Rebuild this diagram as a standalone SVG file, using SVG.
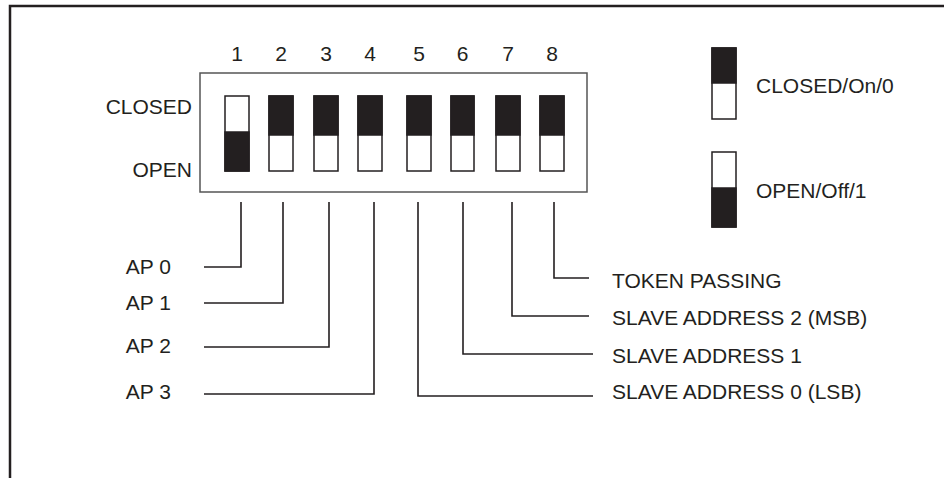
<svg xmlns="http://www.w3.org/2000/svg" width="944" height="478" viewBox="0 0 944 478">
<style>
text{font-family:"Liberation Sans",Arial,sans-serif;font-size:21px;fill:#231f20}
.sw{fill:#fff;stroke:#231f20;stroke-width:1.5}
.blk{fill:#231f20;stroke:#231f20;stroke-width:1.5}
.ld{fill:none;stroke:#231f20;stroke-width:1.6}
</style>
<rect width="944" height="478" fill="#fff"/>
<path d="M10,478 V6 H944" fill="none" stroke="#231f20" stroke-width="2.5"/>
<g id="dip-switch">
<rect x="200" y="73" width="387" height="119" fill="#fff" stroke="#555" stroke-width="1.5"/>
<g text-anchor="middle">
<text x="237" y="61">1</text><text x="281" y="61">2</text><text x="326" y="61">3</text><text x="370" y="61">4</text>
<text x="419" y="61">5</text><text x="462.5" y="61">6</text><text x="508" y="61">7</text><text x="552" y="61">8</text>
</g>
<text x="192" y="114" text-anchor="end">CLOSED</text>
<text x="192" y="177" text-anchor="end">OPEN</text>
<g id="sw1"><rect class="sw" x="225" y="96" width="24" height="75"/><rect class="blk" x="225" y="132" width="24" height="39"/></g>
<g id="sw2"><rect class="sw" x="269" y="96" width="24" height="75"/><rect class="blk" x="269" y="96" width="24" height="39"/></g>
<g id="sw3"><rect class="sw" x="314" y="96" width="24" height="75"/><rect class="blk" x="314" y="96" width="24" height="39"/></g>
<g id="sw4"><rect class="sw" x="358" y="96" width="24" height="75"/><rect class="blk" x="358" y="96" width="24" height="39"/></g>
<g id="sw5"><rect class="sw" x="407" y="96" width="24" height="75"/><rect class="blk" x="407" y="96" width="24" height="39"/></g>
<g id="sw6"><rect class="sw" x="451" y="96" width="23" height="75"/><rect class="blk" x="451" y="96" width="23" height="39"/></g>
<g id="sw7"><rect class="sw" x="496" y="96" width="24" height="75"/><rect class="blk" x="496" y="96" width="24" height="39"/></g>
<g id="sw8"><rect class="sw" x="540" y="96" width="24" height="75"/><rect class="blk" x="540" y="96" width="24" height="39"/></g>
</g>
<g id="legend-closed">
<rect class="sw" x="712" y="48" width="24" height="71"/><rect class="blk" x="712" y="48" width="24" height="35"/>
<text x="756" y="93">CLOSED/On/0</text>
</g>
<g id="legend-open">
<rect class="sw" x="712" y="152" width="24" height="75"/><rect class="blk" x="712" y="188" width="24" height="39"/>
<text x="756" y="198">OPEN/Off/1</text>
</g>
<g id="connectors">
<path class="ld" d="M241,202 V267 H204"/>
<path class="ld" d="M283,202 V303 H204"/>
<path class="ld" d="M329,202 V347 H204"/>
<path class="ld" d="M374,202 V394 H204"/>
<path class="ld" d="M418,202 V396 H593"/>
<path class="ld" d="M463,202 V354 H593"/>
<path class="ld" d="M512,202 V316 H589"/>
<path class="ld" d="M554,202 V278 H589"/>
</g>
<g id="labels-left" text-anchor="end">
<text x="171" y="274">AP 0</text>
<text x="171" y="310">AP 1</text>
<text x="171" y="353">AP 2</text>
<text x="171" y="399">AP 3</text>
</g>
<g id="labels-right">
<text x="612" y="288">TOKEN PASSING</text>
<text x="612" y="325">SLAVE ADDRESS 2 (MSB)</text>
<text x="612" y="363">SLAVE ADDRESS 1</text>
<text x="612" y="399">SLAVE ADDRESS 0 (LSB)</text>
</g>
</svg>
